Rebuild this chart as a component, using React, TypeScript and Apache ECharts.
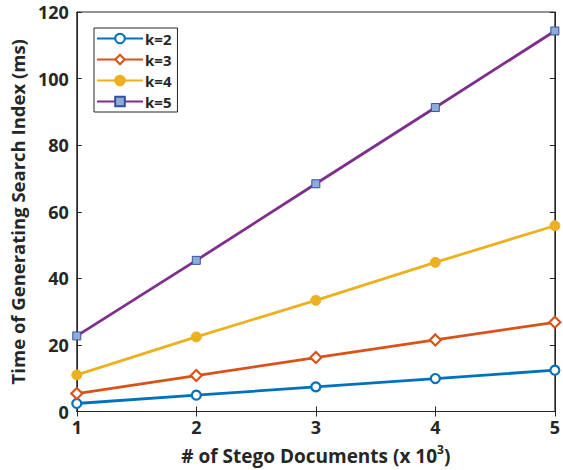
import React, { useEffect, useRef } from "react";
import * as echarts from "echarts";

const categories = [1, 2, 3, 4, 5];
const k2 = [2.4, 4.9, 7.4, 9.9, 12.4];
const k3 = [5.4, 10.8, 16.2, 21.5, 26.8];
const k4 = [11.0, 22.4, 33.4, 44.8, 55.8];
const k5 = [22.7, 45.4, 68.4, 91.3, 114.3];
const yTicks = [0, 20, 40, 60, 80, 100, 120];

const FONT = "'Open Sans', 'Noto Sans', sans-serif";
const TXT = "#262626";

export default function App() {
  const ref = useRef<HTMLDivElement>(null);
  useEffect(() => {
    if (!ref.current) return;
    const chart = echarts.init(ref.current, undefined, { renderer: "svg" });
    const mk = (name: string, data: number[], color: string, symbol: string, itemStyle: any, symbolSize = 9) => ({
      name,
      type: "line",
      data: categories.map((c, i) => [c, data[i]]),
      lineStyle: { color, width: 2.8 },
      itemStyle,
      symbol,
      symbolSize,
      showSymbol: true,
      z: 3,
    });
    const axisLine = { show: true, lineStyle: { color: TXT, width: 1 } };
    chart.setOption({
      animation: false,
      backgroundColor: "#fff",
      grid: { left: 74, right: 5, top: 12, bottom: 58, show: true, borderColor: TXT, borderWidth: 1 },
      legend: {
        left: 94,
        top: 28,
        orient: "vertical",
        itemWidth: 46,
        itemHeight: 12,
        itemGap: 6,
        padding: [3, 6, 3, 2],
        borderColor: TXT,
        borderWidth: 1,
        backgroundColor: "#fff",
        textStyle: { fontFamily: FONT, fontWeight: "bold", fontSize: 15, color: TXT, padding: [0, 0, 0, -3] },
        data: ["k=2", "k=3", "k=4", "k=5"],
      },
      xAxis: [
        {
          type: "value",
          min: 1,
          max: 5,
          interval: 1,
          name: "{n|# of Stego Documents (x 10}{s|3}{n|)}",
          nameLocation: "middle",
          nameGap: 32,
          nameTextStyle: {
            rich: {
              n: { fontFamily: FONT, fontWeight: "bold", fontSize: 19, color: TXT },
              s: { fontFamily: FONT, fontWeight: "bold", fontSize: 12, color: TXT, verticalAlign: "top", padding: [0, 0, 12, 0] },
            },
          },
          axisLine,
          axisTick: { show: true, inside: true, length: 5, lineStyle: { color: TXT } },
          axisLabel: { fontFamily: FONT, fontWeight: "bold", fontSize: 18, color: TXT, margin: 6 },
          splitLine: { show: false },
        },
        {
          type: "value",
          position: "top",
          min: 1,
          max: 5,
          interval: 1,
          axisLine,
          axisTick: { show: true, inside: true, length: 5, lineStyle: { color: TXT } },
          axisLabel: { show: false },
          splitLine: { show: false },
        },
      ],
      yAxis: [
        {
          type: "value",
          min: yTicks[0],
          max: yTicks[yTicks.length - 1],
          interval: 20,
          name: "Time of Generating Search Index (ms)",
          nameLocation: "middle",
          nameGap: 48,
          nameTextStyle: { fontFamily: FONT, fontWeight: "bold", fontSize: 18.5, color: TXT },
          axisLine,
          axisTick: { show: true, inside: true, length: 5, lineStyle: { color: TXT } },
          axisLabel: { fontFamily: FONT, fontWeight: "bold", fontSize: 18, color: TXT, margin: 8 },
          splitLine: { show: false },
        },
        {
          type: "value",
          position: "right",
          min: yTicks[0],
          max: yTicks[yTicks.length - 1],
          interval: 20,
          axisLine,
          axisTick: { show: true, inside: true, length: 5, lineStyle: { color: TXT } },
          axisLabel: { show: false },
          splitLine: { show: false },
        },
      ],
      series: [
        mk("k=2", k2, "#0072BD", "circle", { color: "#fff", borderColor: "#0072BD", borderWidth: 2.2 }),
        mk("k=3", k3, "#D95319", "diamond", { color: "#fff", borderColor: "#D95319", borderWidth: 2.2 }, 11),
        mk("k=4", k4, "#EDB120", "circle", { color: "#EDB120", borderColor: "#EDB120", borderWidth: 1 }, 10),
        mk("k=5", k5, "#7E2F8E", "rect", { color: "#8FAADC", borderColor: "#2F5597", borderWidth: 1 }, 8),
      ],
    });
    return () => chart.dispose();
  }, []);
  return <div ref={ref} style={{ position: "fixed", left: 0, top: 0, width: 563, height: 470 }} />;
}
